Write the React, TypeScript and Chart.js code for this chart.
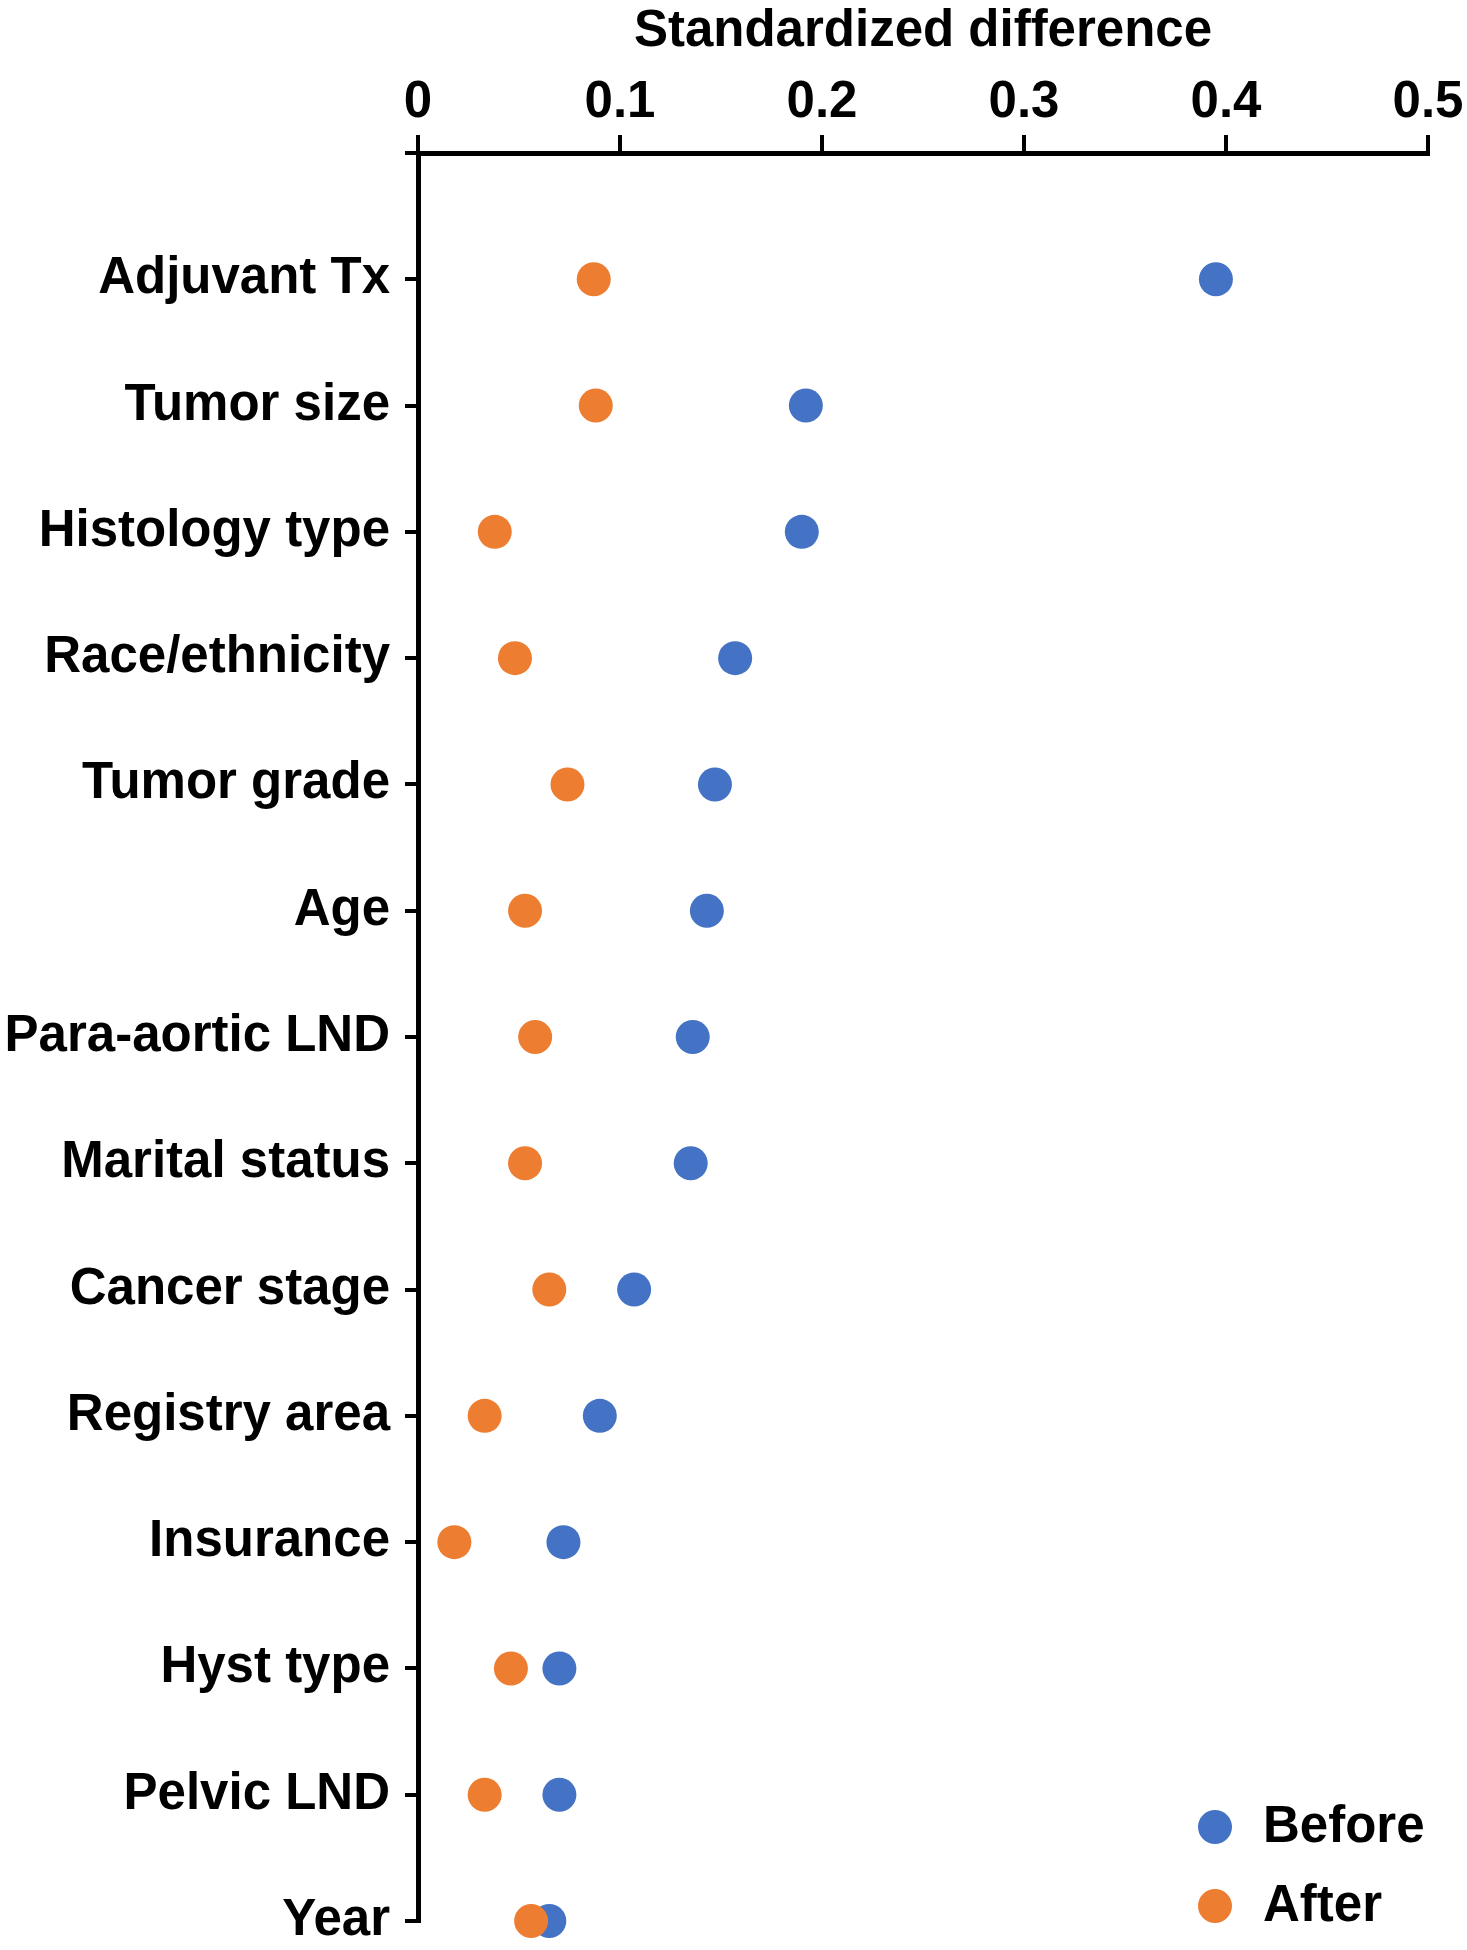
import React, { useEffect, useRef } from "react";
import { Chart, registerables } from "chart.js";

Chart.register(...registerables);

const categories = [
  "Adjuvant Tx",
  "Tumor size",
  "Histology type",
  "Race/ethnicity",
  "Tumor grade",
  "Age",
  "Para-aortic LND",
  "Marital status",
  "Cancer stage",
  "Registry area",
  "Insurance",
  "Hyst type",
  "Pelvic LND",
  "Year",
];

const beforeValues = [0.395, 0.192, 0.19, 0.157, 0.147, 0.143, 0.136, 0.135, 0.107, 0.09, 0.072, 0.07, 0.07, 0.065];
const afterValues = [0.087, 0.088, 0.038, 0.048, 0.074, 0.053, 0.058, 0.053, 0.065, 0.033, 0.018, 0.046, 0.033, 0.056];

const xTickValues = [0, 0.1, 0.2, 0.3, 0.4, 0.5];
const xTickLabels = ["0", "0.1", "0.2", "0.3", "0.4", "0.5"];

const seriesNames = ["Before", "After"];
const seriesColors = ["#4472C4", "#ED7D31"];

const FONT_FAMILY = '"Liberation Sans", Arial, Helvetica, sans-serif';
const FONT_SIZE = 51;

const legendPlugin = {
  id: "insideLegend",
  afterDraw(chart: any) {
    const { ctx, chartArea } = chart;
    ctx.save();
    ctx.font = `bold ${FONT_SIZE}px ${FONT_FAMILY}`;
    ctx.textBaseline = "middle";
    ctx.textAlign = "left";
    [0, 1].forEach((dsIndex, i) => {
      const ds = chart.data.datasets[dsIndex];
      const cx = chartArea.right - 213;
      const cy = chartArea.bottom - 94 + i * 79;
      ctx.beginPath();
      ctx.fillStyle = ds.backgroundColor;
      ctx.arc(cx, cy, 17, 0, Math.PI * 2);
      ctx.fill();
      ctx.fillStyle = "#000";
      ctx.fillText(ds.label, cx + 48, cy + 1);
    });
    ctx.restore();
  },
};

export default function App() {
  const canvasRef = useRef<HTMLCanvasElement | null>(null);

  useEffect(() => {
    if (!canvasRef.current) return;
    const chart = new Chart(canvasRef.current, {
      type: "scatter",
      data: {
        datasets: [
          {
            label: seriesNames[0],
            data: categories.map((_, i) => ({ x: beforeValues[i], y: i + 1 })),
            backgroundColor: seriesColors[0],
            borderColor: seriesColors[0],
            pointRadius: 17,
            pointBorderWidth: 0,
            clip: false,
            order: 1,
          },
          {
            label: seriesNames[1],
            data: categories.map((_, i) => ({ x: afterValues[i], y: i + 1 })),
            backgroundColor: seriesColors[1],
            borderColor: seriesColors[1],
            pointRadius: 17,
            pointBorderWidth: 0,
            clip: false,
            order: 0,
          },
        ],
      },
      options: {
        responsive: false,
        animation: false,
        layout: { padding: { left: 0, right: 39, top: 0, bottom: 29 } },
        plugins: {
          legend: { display: false },
          tooltip: { enabled: false },
          title: { display: false },
        },
        scales: {
          x: {
            type: "linear",
            position: "top",
            min: 0,
            max: 0.5,
            afterBuildTicks: (scale: any) => {
              scale.ticks = xTickValues.map((v) => ({ value: v }));
            },
            afterFit: (scale: any) => {
              scale.height = 153;
              scale.paddingLeft = 0;
              scale.paddingRight = 0;
            },
            ticks: {
              autoSkip: false,
              padding: 1,
              color: "#000",
              font: { family: FONT_FAMILY, size: FONT_SIZE, weight: "bold" },
              callback: (value: any) => {
                const idx = xTickValues.findIndex((v) => Math.abs(v - Number(value)) < 1e-9);
                return idx >= 0 ? xTickLabels[idx] : "";
              },
            },
            grid: {
              drawOnChartArea: false,
              drawTicks: true,
              tickLength: 18,
              tickWidth: 4,
              tickColor: "#000",
              color: "#000",
              lineWidth: 4,
            },
            border: { display: true, color: "#000", width: 5 },
            title: {
              display: true,
              text: "Standardized difference",
              color: "#000",
              font: { family: FONT_FAMILY, size: FONT_SIZE, weight: "bold", lineHeight: 1.04 },
              padding: { top: 5, bottom: 0 },
            },
          },
          y: {
            type: "linear",
            reverse: true,
            min: 0,
            max: categories.length,
            afterBuildTicks: (scale: any) => {
              scale.ticks = [0, ...categories.map((_, i) => i + 1)].map((v) => ({ value: v }));
            },
            afterFit: (scale: any) => {
              scale.width = 418;
              scale.paddingTop = 0;
              scale.paddingBottom = 0;
            },
            ticks: {
              autoSkip: false,
              padding: 15,
              color: "#000",
              font: { family: FONT_FAMILY, size: FONT_SIZE, weight: "bold" },
              callback: (value: any) => {
                const v = Math.round(Number(value));
                return v >= 1 && v <= categories.length ? categories[v - 1] : "";
              },
            },
            grid: {
              drawOnChartArea: false,
              drawTicks: true,
              tickLength: 13,
              tickWidth: 4,
              tickColor: "#000",
              color: "#000",
              lineWidth: 4,
            },
            border: { display: true, color: "#000", width: 5 },
          },
        },
      },
      plugins: [legendPlugin],
    } as any);
    return () => chart.destroy();
  }, []);

  return (
    <div style={{ position: "absolute", left: 0, top: 0, width: 1467, height: 1950, background: "#fff" }}>
      <canvas ref={canvasRef} width={1467} height={1950} style={{ display: "block" }} />
    </div>
  );
}
